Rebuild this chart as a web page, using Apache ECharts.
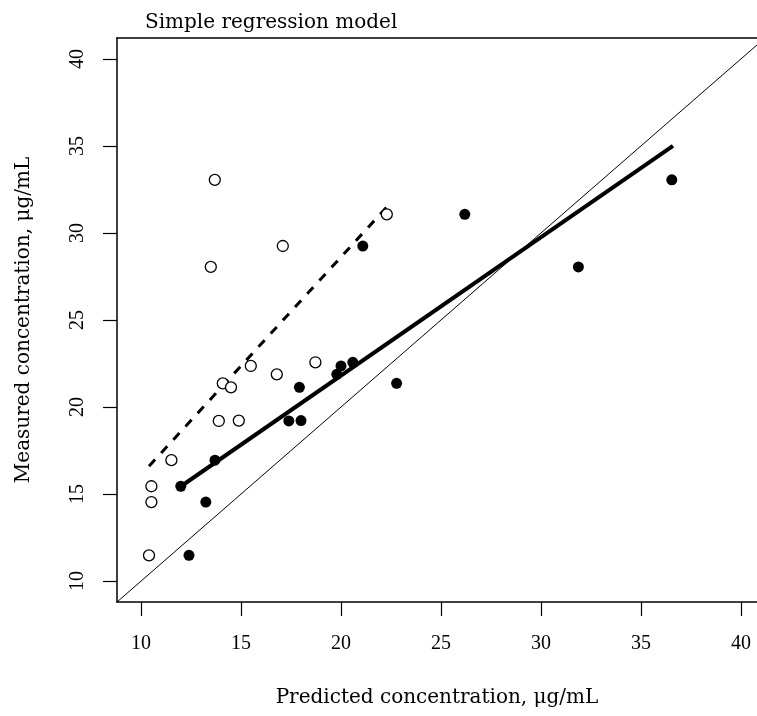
<!DOCTYPE html>
<html>
<head>
<meta charset="utf-8">
<script src="https://cdn.jsdelivr.net/npm/echarts@6/dist/echarts.min.js"></script>
<style>
html,body{margin:0;padding:0;background:#fff;}
#chart{width:757px;height:716px;}
</style>
</head>
<body>
<div id="chart"></div>
<script>
// Measured concentration (shared by both predictions)
const measured = [11.48, 14.54, 15.45, 16.95, 19.2, 19.22, 21.36, 21.13, 22.36, 21.88, 22.57, 28.05, 29.25, 33.05, 31.07];
// Predicted concentration, open circles (first model)
const predictedOpen = [10.4, 10.52, 10.52, 11.52, 13.89, 14.89, 14.09, 14.5, 15.49, 16.79, 18.72, 13.49, 17.09, 13.69, 22.29];
// Predicted concentration, filled circles (simple regression model)
const predictedFilled = [12.4, 13.24, 11.99, 13.7, 17.39, 18.0, 22.78, 17.92, 20.0, 19.79, 20.59, 31.87, 21.09, 36.54, 26.19];
// Fitted lines (endpoints)
const fitOpenX = [10.4, 22.3];
const fitOpenY = [16.6, 31.5];
const fitFilledX = [12.0, 36.6];
const fitFilledY = [15.45, 35.0];
const identityXY = [8.8, 41.2];
// Axis ticks
const xTicks = [10, 15, 20, 25, 30, 35, 40];
const yTicks = [10, 15, 20, 25, 30, 35, 40];
const xMin = 8.8, xMax = 40.8;
const yMin = 8.8, yMax = 41.2;

const openData = predictedOpen.map((x, i) => [x, measured[i]]);
const filledData = predictedFilled.map((x, i) => [x, measured[i]]);
const fitOpen = fitOpenX.map((x, i) => [x, fitOpenY[i]]);
const fitFilled = fitFilledX.map((x, i) => [x, fitFilledY[i]]);
const identity = identityXY.map(v => [v, v]);

const FONT = 'Liberation Serif';
const chart = echarts.init(document.getElementById('chart'), null, {renderer: 'canvas'});
chart.setOption({
  backgroundColor: '#fff',
  animation: false,
  title: {
    text: 'Simple regression model',
    left: 140, top: 8,
    textStyle: {fontFamily: 'DejaVu Serif', fontWeight: 'normal', fontSize: 20, color: '#000'}
  },
  grid: {left: 117, top: 38, right: 0, height: 564, show: false},
  xAxis: [{
    type: 'value', min: xMin, max: xMax,
    name: 'Predicted concentration, μg/mL',
    nameLocation: 'middle', nameGap: 86,
    nameTextStyle: {fontFamily: 'DejaVu Serif', fontSize: 20, color: '#000'},
    axisLine: {show: true, lineStyle: {color: '#000', width: 1.5}},
    axisTick: {show: true, inside: false, length: 14, customValues: xTicks, lineStyle: {color: '#000', width: 1.2}},
    axisLabel: {customValues: xTicks, margin: 32, fontFamily: FONT, fontSize: 20, color: '#000'},
    splitLine: {show: false}
  }, {
    type: 'value', min: xMin, max: xMax, position: 'top',
    axisLine: {show: true, lineStyle: {color: '#000', width: 1.5}},
    axisTick: {show: false}, axisLabel: {show: false}, splitLine: {show: false}
  }],
  yAxis: {
    type: 'value', min: yMin, max: yMax,
    name: 'Measured concentration, μg/mL',
    nameLocation: 'middle', nameGap: 83, nameRotate: 90,
    nameTextStyle: {fontFamily: 'DejaVu Serif', fontSize: 20, color: '#000'},
    axisLine: {show: true, lineStyle: {color: '#000', width: 1.5}},
    axisTick: {show: true, inside: false, length: 14, customValues: yTicks, lineStyle: {color: '#000', width: 1.2}},
    axisLabel: {customValues: yTicks, margin: 29, rotate: 90, fontFamily: FONT, fontSize: 20, color: '#000'},
    splitLine: {show: false}
  },
  series: [
    {type: 'line', data: identity, symbol: 'none', lineStyle: {color: '#000', width: 1}, z: 1, silent: true},
    {type: 'line', data: fitOpen, symbol: 'none', lineStyle: {color: '#000', width: 3, type: [9, 9]}, z: 2, silent: true},
    {type: 'line', data: fitFilled, symbol: 'none', lineStyle: {color: '#000', width: 4}, z: 2, silent: true},
    {type: 'scatter', data: openData, symbol: 'circle', symbolSize: 11,
      itemStyle: {color: '#fff', borderColor: '#000', borderWidth: 1.3, opacity: 1}, z: 3},
    {type: 'scatter', data: filledData, symbol: 'circle', symbolSize: 11,
      itemStyle: {color: '#000', opacity: 1}, z: 4}
  ]
});
</script>
</body>
</html>
